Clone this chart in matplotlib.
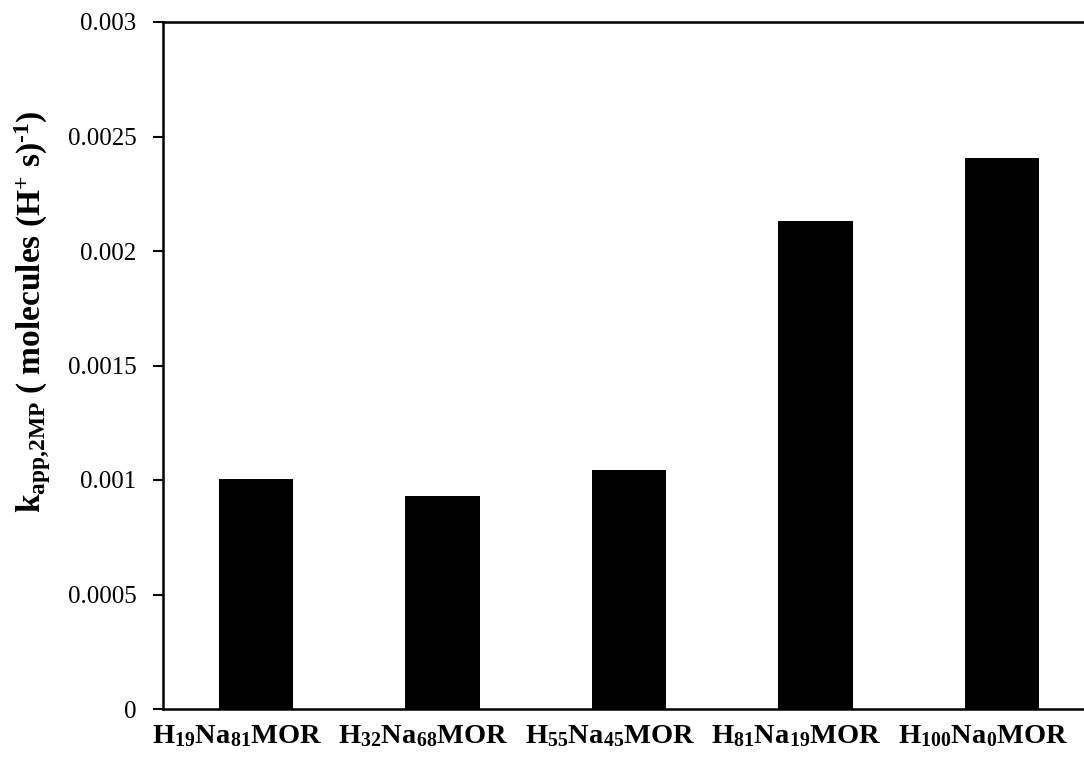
import matplotlib
matplotlib.use("Agg")
import matplotlib.pyplot as plt
from matplotlib.transforms import ScaledTranslation

plt.rcParams['font.family'] = ['Liberation Serif', 'DejaVu Serif']
plt.rcParams['mathtext.fontset'] = 'custom'
plt.rcParams['mathtext.rm'] = 'Liberation Serif'
plt.rcParams['mathtext.bf'] = 'Liberation Serif:bold'
plt.rcParams['mathtext.default'] = 'bf'

# catalyst samples and apparent rate constants
samples = ['H$_{19}$Na$_{81}$MOR', 'H$_{32}$Na$_{68}$MOR', 'H$_{55}$Na$_{45}$MOR',
           'H$_{81}$Na$_{19}$MOR', 'H$_{100}$Na$_{0}$MOR']
k_app = [0.001005, 0.000928, 0.001045, 0.002133, 0.002405]
y_ticks = [0, 0.0005, 0.001, 0.0015, 0.002, 0.0025, 0.003]
y_tick_labels = ['0', '0.0005', '0.001', '0.0015', '0.002', '0.0025', '0.003']

fig = plt.figure(figsize=(10.84, 7.57), dpi=100)
# right edge of the plot area runs past the picture, as in the original
ax = fig.add_axes([163/1084, 1 - 709/757, 932/1084, 687/757])

x = range(len(samples))
ax.bar(x, k_app, width=0.4, color='black')

ax.set_xlim(-0.5, 4.5)
ax.set_ylim(0, 0.003)
ax.set_yticks(y_ticks)
ax.set_yticklabels(y_tick_labels, fontsize=18)
ax.set_xticks(list(x))
ax.set_xticklabels(samples, fontsize=20.5, fontweight='bold')
ax.tick_params(axis='x', length=0, pad=10)
ax.tick_params(axis='y', direction='out', length=7, width=1.5, pad=12)
for s in ax.spines.values():
    s.set_linewidth(1.8)

# category labels sit a little left of the bar centres in the original
shift = ScaledTranslation(-19/100, 0, fig.dpi_scale_trans)
for lab in ax.get_xticklabels():
    lab.set_transform(lab.get_transform() + shift)

fig.text(33/1084, 1 - 312/757,
         'k$_{app{,}2MP}$ ( molecules (H$^{+}$ s)$^{\u20101}$)',
         rotation=90, ha='center', va='center', fontsize=24, fontweight='bold')

fig.savefig('out.png', dpi=100)
